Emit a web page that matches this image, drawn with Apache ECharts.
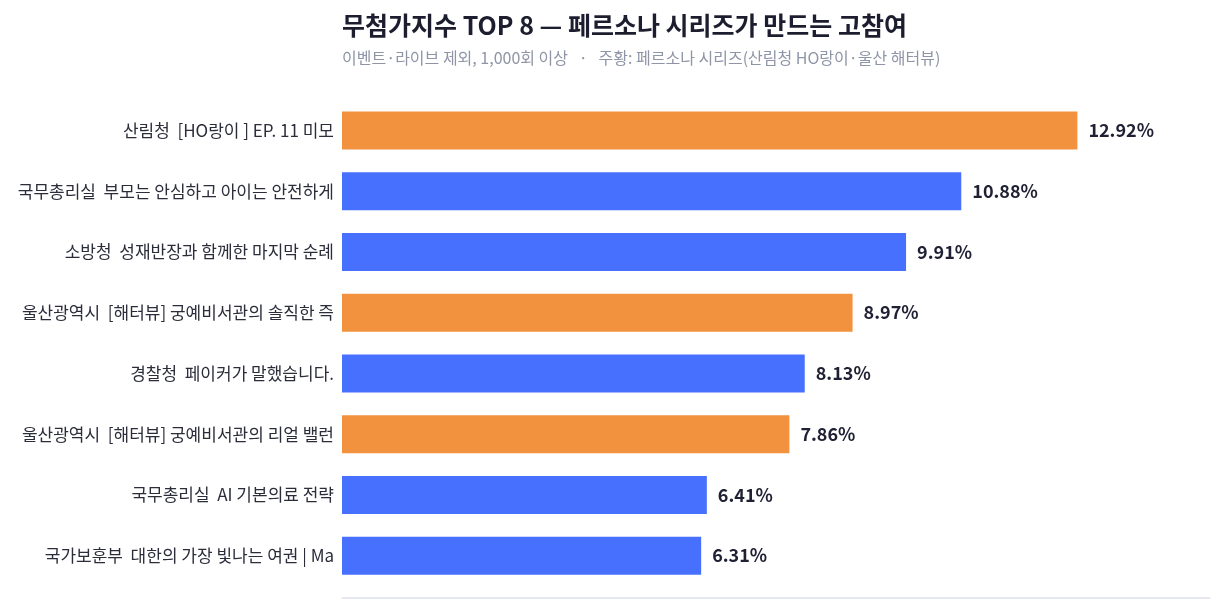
<!DOCTYPE html>
<html>
<head>
<meta charset="utf-8">
<script src="https://cdn.jsdelivr.net/npm/echarts@6/dist/echarts.min.js"></script>
<style>
  html, body { margin: 0; padding: 0; background: #fff; }
  #chart { width: 1221px; height: 611px; }
</style>
</head>
<body>
<div id="chart"></div>
<script>
// data, top to bottom
var names = [
    '산림청  [HO랑이 ] EP. 11 미모',
    '국무총리실  부모는 안심하고 아이는 안전하게',
    '소방청  성재반장과 함께한 마지막 순례',
    '울산광역시  [해터뷰] 궁예비서관의 솔직한 즉',
    '경찰청  페이커가 말했습니다.',
    '울산광역시  [해터뷰] 궁예비서관의 리얼 밸런',
    '국무총리실  AI 기본의료 전략',
    '국가보훈부  대한의 가장 빛나는 여권 | Ma'
];
var rates = [12.92, 10.88, 9.91, 8.97, 8.13, 7.86, 6.41, 6.31];
var persona = [true, false, false, true, false, true, false, false];

var ORANGE = '#F2923E';
var BLUE = '#4870FF';

var chart = echarts.init(document.getElementById('chart'));
var font = '"Noto Sans CJK KR", "Noto Sans", sans-serif';

var barData = [];
for (var i = 0; i < rates.length; i++) {
    barData.push({
        value: rates[i],
        itemStyle: { color: persona[i] ? ORANGE : BLUE }
    });
}

chart.setOption({
    textStyle: { fontFamily: font },
    title: {
        text: '무첨가지수 TOP 8 — 페르소나 시리즈가 만드는 고참여',
        subtext: '이벤트·라이브 제외, 1,000회 이상   ·   주황: 페르소나 시리즈(산림청 HO랑이·울산 해터뷰)',
        left: 337,
        top: 8,
        itemGap: 12,
        textStyle: { fontFamily: font, fontSize: 25, fontWeight: 'bold', color: '#1c1d2e' },
        subtextStyle: { fontFamily: font, fontSize: 16, color: '#8e95a6' }
    },
    grid: { left: 342, right: 11, top: 100, height: 486, containLabel: false },
    xAxis: {
        type: 'value',
        min: 0,
        max: 15.25,
        offset: 12,
        axisLine: { show: true, lineStyle: { color: '#dde1ec', width: 1.5 } },
        axisTick: { show: false },
        axisLabel: { show: false },
        splitLine: { show: false }
    },
    yAxis: {
        type: 'category',
        inverse: true,
        data: names,
        axisLine: { show: false },
        axisTick: { show: false },
        axisLabel: { fontFamily: font, fontSize: 17, color: '#2b2d3a', margin: 8 }
    },
    series: [{
        type: 'bar',
        data: barData,
        barWidth: 38,
        label: {
            show: true,
            position: 'right',
            distance: 11,
            formatter: function (p) { return p.value.toFixed(2) + '%'; },
            fontFamily: font,
            fontSize: 18,
            fontWeight: 'bold',
            color: '#1f2033'
        },
        animation: false
    }]
});
</script>
</body>
</html>
